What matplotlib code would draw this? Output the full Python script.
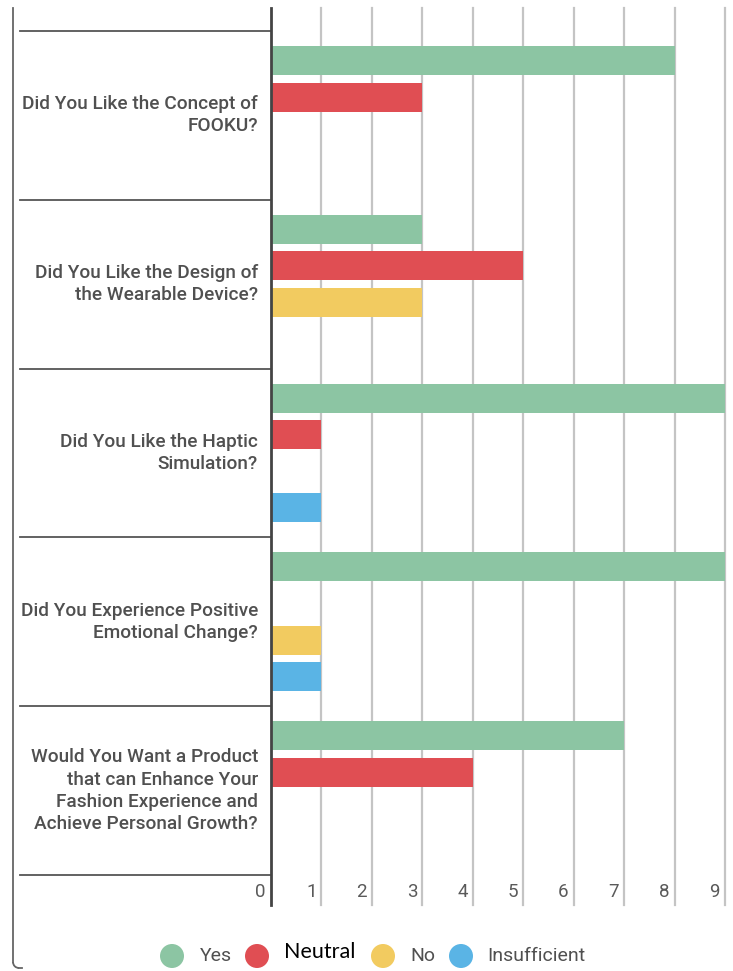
import matplotlib.pyplot as plt
from matplotlib.patches import Circle, Arc
from matplotlib.transforms import offset_copy

# survey questions (top to bottom) and answer counts per series
questions = [
    "Did You Like the Concept of\nFOOKU?",
    "Did You Like the Design of\nthe Wearable Device?",
    "Did You Like the Haptic\nSimulation?",
    "Did You Experience Positive\nEmotional Change?",
    "Would You Want a Product\nthat can Enhance Your\nFashion Experience and\nAchieve Personal Growth?",
]
series = ["Yes", "Neutral", "No", "Insufficient"]
yes = [8, 3, 9, 9, 7]
neutral = [3, 5, 1, 0, 4]
no = [0, 3, 0, 1, 0]
insufficient = [0, 0, 1, 1, 0]
ticks = list(range(10))

COLORS = ["#8cc5a3", "#e04e53", "#f2cb60", "#5ab4e5"]
TEXT = "#505050"

W, H = 733, 971
fig = plt.figure(figsize=(W / 100, H / 100), dpi=100)

# main bar axes, placed in pixel terms
ax_l, ax_r, ax_t, ax_b = 271, 725, 8, 905
ax = fig.add_axes([ax_l / W, 1 - ax_b / H, (ax_r - ax_l) / W, (ax_b - ax_t) / H])
grp = 169.0
ax.set_xlim(0, 9)
ax.set_ylim(4.5 + 30 / grp, -0.5 - 23 / grp)
for s in ax.spines.values():
    s.set_visible(False)
ax.set_xticks([])
ax.set_yticks([])

for k in ticks[1:]:
    ax.axvline(k, color="#c4c4c4", lw=1.6, zorder=0, clip_on=False)
ax.axvline(0, color="#444444", lw=2.0, zorder=3, clip_on=False)

offsets = [-0.325, -0.108, 0.108, 0.325]
bar_h = 29 / grp
for vals, off, c in zip([yes, neutral, no, insufficient], offsets, COLORS):
    ypos = [i + off for i in range(len(questions))]
    ax.barh(ypos, vals, height=bar_h, color=c, linewidth=0, zorder=2)

# row separators left of the axis
sep_x0 = (20 - ax_l) / (ax_r - ax_l)
ytrans = ax.get_yaxis_transform()
for b in range(len(questions) + 1):
    ax.plot([sep_x0, 0], [b - 0.5, b - 0.5], color="#555555", lw=1.3,
            transform=ytrans, clip_on=False)

# question labels
lab_x = (258 - ax_l) / (ax_r - ax_l)
for i, q in enumerate(questions):
    ax.text(lab_x, i, q, transform=ytrans, ha="right", va="center",
            fontsize=13.7, family="Roboto", fontweight="medium",
            color=TEXT, linespacing=1.3)

# tick numbers just left of each gridline
xtrans = offset_copy(ax.get_xaxis_transform(), fig=fig, x=-5, y=0, units="dots")
tick_y = (ax_b - 892) / (ax_b - ax_t)
for k in ticks:
    ax.text(k, tick_y, str(k), transform=xtrans, ha="right", va="center",
            fontsize=13.5, family="Roboto", color="#5a5a5a")

# overlay in pixel coords for frame and legend
ov = fig.add_axes([0, 0, 1, 1], zorder=-1)
ov.set_xlim(0, W)
ov.set_ylim(H, 0)
ov.axis("off")
ov.plot([13, 13], [8, 962], color="#666666", lw=1.3)
ov.add_patch(Arc((19, 962), 12, 12, theta1=90, theta2=180, color="#666666", lw=1.3))
ov.plot([19, 22], [968, 968], color="#666666", lw=1.3)

leg_ax = fig.add_axes([0, 0, 1, 1], zorder=5)
leg_ax.set_xlim(0, W)
leg_ax.set_ylim(H, 0)
leg_ax.axis("off")
circ_x = [172, 257, 383, 461]
text_x = [200, 284, 410, 487]
for name, c, cx, tx in zip(series, COLORS, circ_x, text_x):
    leg_ax.add_patch(Circle((cx, 956), 12, color=c, lw=0))
    if name == "Neutral":
        leg_ax.text(tx, 952, name, ha="left", va="center", fontsize=15.5,
                    family="Lato", color="black")
    else:
        leg_ax.text(tx, 956, name, ha="left", va="center", fontsize=14,
                    family="Roboto", color=TEXT)

fig.savefig("out.png", dpi=100)
